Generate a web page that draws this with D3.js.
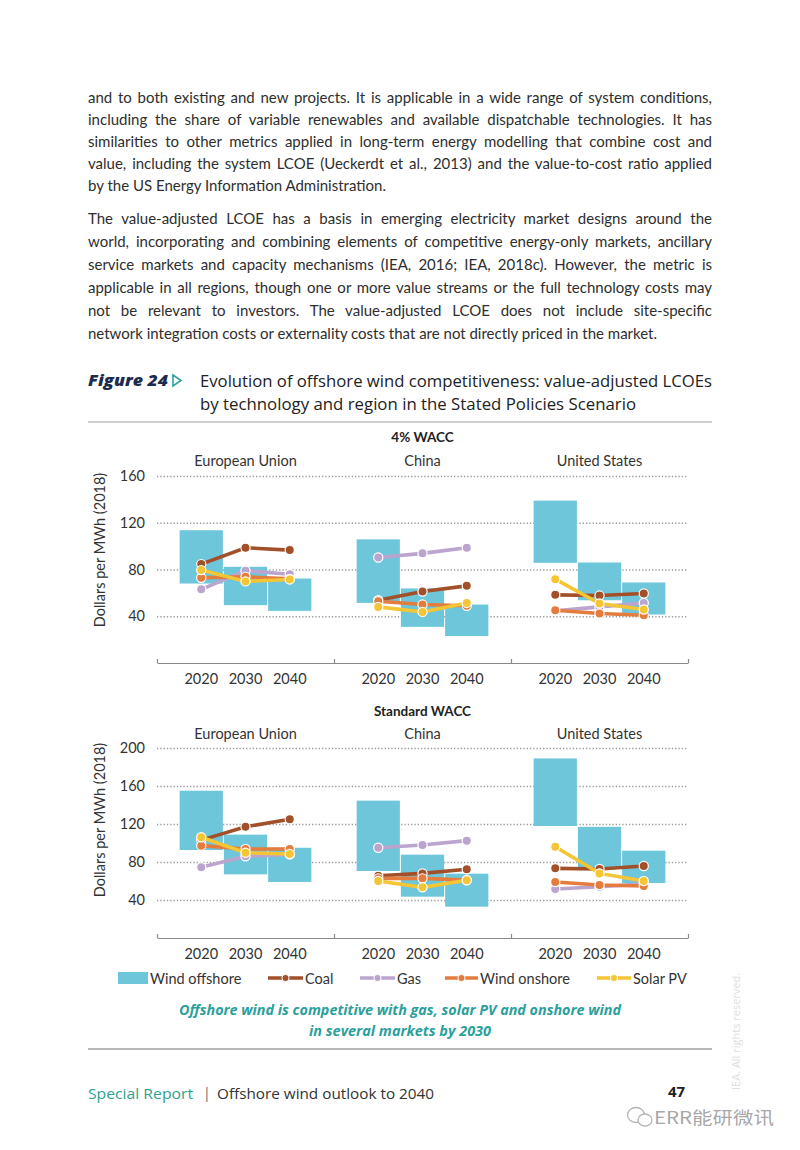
<!DOCTYPE html>
<html>
<head>
<meta charset="utf-8">
<script src="https://cdn.jsdelivr.net/npm/d3@7"></script>
<style>
  body { margin: 0; background: #fff; }
  svg { display: block; }
  .grid line { stroke: #9a9a9a; stroke-width: 1.3; stroke-dasharray: 1.3 2; }
  .grid .domain { display: none; }
</style>
</head>
<body>
<div id="page"></div>
<script>
// chart values (region-major: EU 2020..2040, China, US)
var regions = ['European Union', 'China', 'United States'];
var years = ['2020', '2030', '2040'];
var seriesNames = ['Coal', 'Gas', 'Wind onshore', 'Solar PV'];

var ticks4 = [40, 80, 120, 160];
var offshore4Low  = [68, 49.5, 44.6, 51.4, 30.9, 23.1, 85.7, 53.7, 41.5];
var offshore4High = [113.6, 82.3, 72.3, 105.8, 63.8, 50, 138.9, 86, 68.9];
var coal4    = [84.6, 98.6, 96.6, 53.7, 61.2, 66, 58.3, 57.7, 59.5];
var gas4     = [63, 79, 76, 90.3, 93.8, 98.6, 44.6, 48, 51.4];
var onshore4 = [72.9, 73.7, 72, 52.9, 50, 49, 45.2, 42.3, 40.9];
var solar4   = [79.5, 69.8, 71.5, 48, 43.7, 51.4, 71.7, 50.9, 45.8];

var ticksStd = [40, 80, 120, 160, 200];
var offshoreStdLow  = [92.6, 67, 59, 70.5, 43.5, 33, 117.9, 74.4, 57.9];
var offshoreStdHigh = [155, 108.8, 95, 144.6, 87.7, 67.7, 189, 117, 91.9];
var coalStd    = [103, 117, 125, 65.6, 68, 72.3, 73.3, 72.6, 75.8];
var gasStd     = [74.4, 86, 88, 95, 97.9, 102.5, 51.6, 54, 57];
var onshoreStd = [97.2, 93.7, 93.7, 62.8, 62.8, 61, 59, 55.8, 54.7];
var solarStd   = [106, 89.8, 88.4, 60, 53.3, 60.7, 96.1, 68, 60];

var para1 = [
  'and to both existing and new projects. It is applicable in a wide range of system conditions,',
  'including the share of variable renewables and available dispatchable technologies. It has',
  'similarities to other metrics applied in long-term energy modelling that combine cost and',
  'value, including the system LCOE (Ueckerdt et al., 2013) and the value-to-cost ratio applied',
  'by the US Energy Information Administration.'
];
var para2 = [
  'The value-adjusted LCOE has a basis in emerging electricity market designs around the',
  'world, incorporating and combining elements of competitive energy-only markets, ancillary',
  'service markets and capacity mechanisms (IEA, 2016; IEA, 2018c). However, the metric is',
  'applicable in all regions, though one or more value streams or the full technology costs may',
  'not be relevant to investors. The value-adjusted LCOE does not include site-specific',
  'network integration costs or externality costs that are not directly priced in the market.'
];

var colors = {
  'Wind offshore': '#6ec6da',
  'Coal': '#a2502a',
  'Gas': '#bba4cd',
  'Wind onshore': '#e37c3c',
  'Solar PV': '#f4c534'
};
var textFont = 'Lato, "Open Sans", sans-serif';
var headFont = '"Open Sans", "Noto Sans", sans-serif';

var svg = d3.select('#page').append('svg')
    .attr('width', 800)
    .attr('height', 1150);
svg.append('rect').attr('width', 800).attr('height', 1150).attr('fill', '#fff');

// spread words so a line fills the column
function justify(sel, width) {
  sel.each(function() {
    var w = this.getComputedTextLength();
    var spaces = (this.textContent.match(/ /g) || []).length;
    if (spaces) d3.select(this).attr('word-spacing', (width - w) / spaces);
  });
}

function paragraph(lines, y0, step) {
  var t = svg.append('g').selectAll('text')
    .data(lines).enter().append('text')
      .attr('x', 88)
      .attr('y', function(d, i) { return y0 + i * step; })
      .attr('font-family', textFont)
      .attr('font-size', 15)
      .attr('fill', '#2e2e2e')
      .text(function(d) { return d; });
  justify(t.filter(function(d, i) { return i < lines.length - 1; }), 624);
}
paragraph(para1, 103, 22);
paragraph(para2, 224, 23);

// figure heading
svg.append('text')
    .attr('x', 88).attr('y', 386)
    .attr('font-family', headFont).attr('font-size', 16.5)
    .attr('font-weight', 800).attr('font-style', 'italic')
    .attr('fill', '#1d2b4c')
    .attr('textLength', 80).attr('lengthAdjust', 'spacingAndGlyphs')
    .text('Figure 24');
svg.append('path')
    .attr('d', 'M173,375 L181,380.5 L173,386 Z')
    .attr('fill', 'none').attr('stroke', '#2aa3a3').attr('stroke-width', 1.6);
var heading = ['Evolution of offshore wind competitiveness: value-adjusted LCOEs',
               'by technology and region in the Stated Policies Scenario'];
var headingW = [512, 436];
svg.append('g').selectAll('text')
  .data(heading).enter().append('text')
    .attr('x', 200)
    .attr('y', function(d, i) { return 387 + i * 23; })
    .attr('font-family', headFont).attr('font-size', 16.5)
    .attr('fill', '#222')
    .attr('textLength', function(d, i) { return headingW[i]; })
    .attr('lengthAdjust', 'spacingAndGlyphs')
    .text(function(d) { return d; });
svg.append('line').attr('x1', 88).attr('x2', 712).attr('y1', 422).attr('y2', 422)
    .attr('stroke', '#a0a0a0').attr('stroke-width', 1.2);

// panels
var xLeft = 157, xRight = 688;
var xPanel = d3.scaleBand().domain(regions).range([xLeft, xRight]);
var xYear = d3.scaleBand().domain(years)
    .range([0, xPanel.bandwidth()])
    .paddingInner(0).paddingOuter(0.5);
var xEdge = d3.scaleLinear().domain([0, regions.length]).range([xLeft, xRight]);

function drawPanel(opt) {
  var g = svg.append('g');
  var y = d3.scaleLinear().domain([0, opt.top]).range([opt.base, opt.topY]);

  // dotted grid
  g.append('g').attr('class', 'grid')
      .attr('transform', 'translate(' + xLeft + ',0)')
      .call(d3.axisLeft(y).tickValues(opt.ticks).tickSize(-(xRight - xLeft)).tickFormat(''));

  // y labels
  var ya = g.append('g')
      .attr('transform', 'translate(' + xLeft + ',0)')
      .call(d3.axisLeft(y).tickValues(opt.ticks).tickSize(0).tickPadding(12));
  ya.select('.domain').remove();
  ya.selectAll('text').attr('font-family', textFont).attr('font-size', 14.5).attr('fill', '#333');

  g.append('text')
      .attr('transform', 'translate(105,' + opt.titleMid + ') rotate(-90)')
      .attr('text-anchor', 'middle')
      .attr('font-family', textFont).attr('font-size', 14.5).attr('fill', '#333')
      .text('Dollars per MWh (2018)');

  g.append('text')
      .attr('x', xPanel('China') + xPanel.bandwidth() / 2)
      .attr('y', opt.topY - opt.headOff)
      .attr('text-anchor', 'middle')
      .attr('font-family', textFont).attr('font-size', 13.5).attr('font-weight', 700).attr('fill', '#222')
      .text(opt.title);

  var rows = [];
  regions.forEach(function(r, ri) {
    years.forEach(function(yr, yi) {
      var k = ri * years.length + yi;
      rows.push({region: r, year: yr, low: opt.low[k], high: opt.high[k]});
    });
  });

  regions.forEach(function(r) {
    var pg = g.append('g').attr('transform', 'translate(' + xPanel(r) + ',0)');
    pg.append('text')
        .attr('x', xPanel.bandwidth() / 2)
        .attr('y', opt.regionY)
        .attr('text-anchor', 'middle')
        .attr('font-family', textFont).attr('font-size', 14.5).attr('fill', '#333')
        .text(r);
    var xa = pg.append('g')
        .attr('transform', 'translate(0,' + opt.base + ')')
        .call(d3.axisBottom(xYear).tickSize(0).tickPadding(11));
    xa.select('.domain').remove();
    xa.selectAll('text').attr('font-family', textFont).attr('font-size', 14.5).attr('fill', '#333');
  });

  // offshore wind ranges
  g.append('g').selectAll('rect')
    .data(rows).enter().append('rect')
      .attr('x', function(d) { return xPanel(d.region) + xYear(d.year) + 0.5; })
      .attr('width', xYear.bandwidth() - 1)
      .attr('y', function(d) { return y(d.high); })
      .attr('height', function(d) { return y(d.low) - y(d.high); })
      .attr('fill', colors['Wind offshore']);

  // axis line with panel separators
  var ea = g.append('g')
      .attr('transform', 'translate(0,' + opt.base + ')')
      .call(d3.axisBottom(xEdge).tickValues([0, 1, 2, 3]).tickSize(-4).tickSizeOuter(0).tickFormat(''));
  ea.selectAll('path, line').attr('stroke', '#8a8a8a').attr('stroke-width', 1.2);

  var line = d3.line()
      .x(function(d) { return xPanel(d.region) + xYear(d.year) + xYear.bandwidth() / 2; })
      .y(function(d) { return y(d.v); });

  seriesNames.forEach(function(name) {
    var vals = opt.series[name];
    var sg = g.append('g');
    regions.forEach(function(r, ri) {
      var pts = years.map(function(yr, yi) {
        return {region: r, year: yr, v: vals[ri * years.length + yi]};
      });
      sg.append('path')
          .datum(pts)
          .attr('d', line)
          .attr('fill', 'none')
          .attr('stroke', colors[name])
          .attr('stroke-width', 3.6);
      sg.selectAll('circle.r' + ri)
        .data(pts).enter().append('circle')
          .attr('class', 'r' + ri)
          .attr('cx', line.x())
          .attr('cy', line.y())
          .attr('r', 4.6)
          .attr('fill', colors[name])
          .attr('stroke', '#fff')
          .attr('stroke-width', 1.2);
    });
  });
}

drawPanel({
  title: '4% WACC', ticks: ticks4, top: 160, base: 663, topY: 476,
  headOff: 34, regionY: 466, titleMid: 550,
  low: offshore4Low, high: offshore4High,
  series: {'Coal': coal4, 'Gas': gas4, 'Wind onshore': onshore4, 'Solar PV': solar4}
});
drawPanel({
  title: 'Standard WACC', ticks: ticksStd, top: 200, base: 938, topY: 748,
  headOff: 32, regionY: 739, titleMid: 820,
  low: offshoreStdLow, high: offshoreStdHigh,
  series: {'Coal': coalStd, 'Gas': gasStd, 'Wind onshore': onshoreStd, 'Solar PV': solarStd}
});

// legend
var legendItems = [
  {name: 'Wind offshore', x: 118, w: 30},
  {name: 'Coal', x: 268, w: 35},
  {name: 'Gas', x: 360, w: 35},
  {name: 'Wind onshore', x: 445, w: 33},
  {name: 'Solar PV', x: 597, w: 34}
];
var lg = svg.append('g').selectAll('g')
  .data(legendItems).enter().append('g')
    .attr('transform', function(d) { return 'translate(' + d.x + ',978)'; });
lg.filter(function(d) { return d.name === 'Wind offshore'; })
  .append('rect').attr('x', 0).attr('y', -6).attr('width', function(d) { return d.w; }).attr('height', 12)
    .attr('fill', colors['Wind offshore']);
var lgl = lg.filter(function(d) { return d.name !== 'Wind offshore'; });
lgl.append('line').attr('x1', 0).attr('x2', function(d) { return d.w; })
    .attr('stroke', function(d) { return colors[d.name]; }).attr('stroke-width', 3.6);
lgl.append('circle').attr('cx', function(d) { return d.w / 2; }).attr('r', 3.6)
    .attr('fill', function(d) { return colors[d.name]; }).attr('stroke', '#fff').attr('stroke-width', 1);
lg.append('text')
    .attr('x', function(d) { return d.w + 2; })
    .attr('y', 5.5)
    .attr('font-family', textFont).attr('font-size', 14.5).attr('fill', '#333')
    .text(function(d) { return d.name; });

// caption
var caption = ['Offshore wind is competitive with gas, solar PV and onshore wind', 'in several markets by 2030'];
var captionW = [442, 182];
svg.append('g').selectAll('text')
  .data(caption).enter().append('text')
    .attr('x', 400)
    .attr('y', function(d, i) { return 1015 + i * 21; })
    .attr('text-anchor', 'middle')
    .attr('font-family', headFont).attr('font-size', 13.5)
    .attr('font-weight', 700).attr('font-style', 'italic')
    .attr('fill', '#2b9f9c')
    .attr('textLength', function(d, i) { return captionW[i]; })
    .attr('lengthAdjust', 'spacingAndGlyphs')
    .text(function(d) { return d; });
svg.append('line').attr('x1', 88).attr('x2', 712).attr('y1', 1049).attr('y2', 1049)
    .attr('stroke', '#a0a0a0').attr('stroke-width', 1.6);

// footer
svg.append('text').attr('x', 88).attr('y', 1099)
    .attr('font-family', headFont).attr('font-size', 15).attr('fill', '#2e9f90')
    .attr('textLength', 105).attr('lengthAdjust', 'spacingAndGlyphs')
    .text('Special Report');
svg.append('text').attr('x', 203).attr('y', 1098)
    .attr('font-family', headFont).attr('font-size', 14).attr('fill', '#666').text('|');
svg.append('text').attr('x', 217).attr('y', 1099)
    .attr('font-family', headFont).attr('font-size', 14.5).attr('fill', '#333')
    .attr('textLength', 217).attr('lengthAdjust', 'spacingAndGlyphs')
    .text('Offshore wind outlook to 2040');
svg.append('text').attr('x', 668).attr('y', 1097)
    .attr('font-family', headFont).attr('font-size', 15).attr('font-weight', 700).attr('fill', '#222')
    .text('47');
svg.append('text')
    .attr('transform', 'translate(740,1090) rotate(-90)')
    .attr('font-family', headFont).attr('font-size', 11).attr('fill', '#dedede')
    .text('IEA. All rights reserved.');

// watermark
svg.append('ellipse').attr('cx', 636).attr('cy', 1115).attr('rx', 8.5).attr('ry', 7.5)
    .attr('fill', '#fff').attr('stroke', '#b5b5b5').attr('stroke-width', 1.3);
svg.append('ellipse').attr('cx', 645).attr('cy', 1120).attr('rx', 7).attr('ry', 6)
    .attr('fill', '#fff').attr('stroke', '#b5b5b5').attr('stroke-width', 1.3);
svg.append('text').attr('x', 654).attr('y', 1124)
    .attr('font-family', '"Noto Sans CJK SC", sans-serif').attr('font-size', 17.5).attr('fill', '#a8a8a8')
    .attr('textLength', 120).attr('lengthAdjust', 'spacingAndGlyphs')
    .text('ERR能研微讯');
</script>
</body>
</html>
